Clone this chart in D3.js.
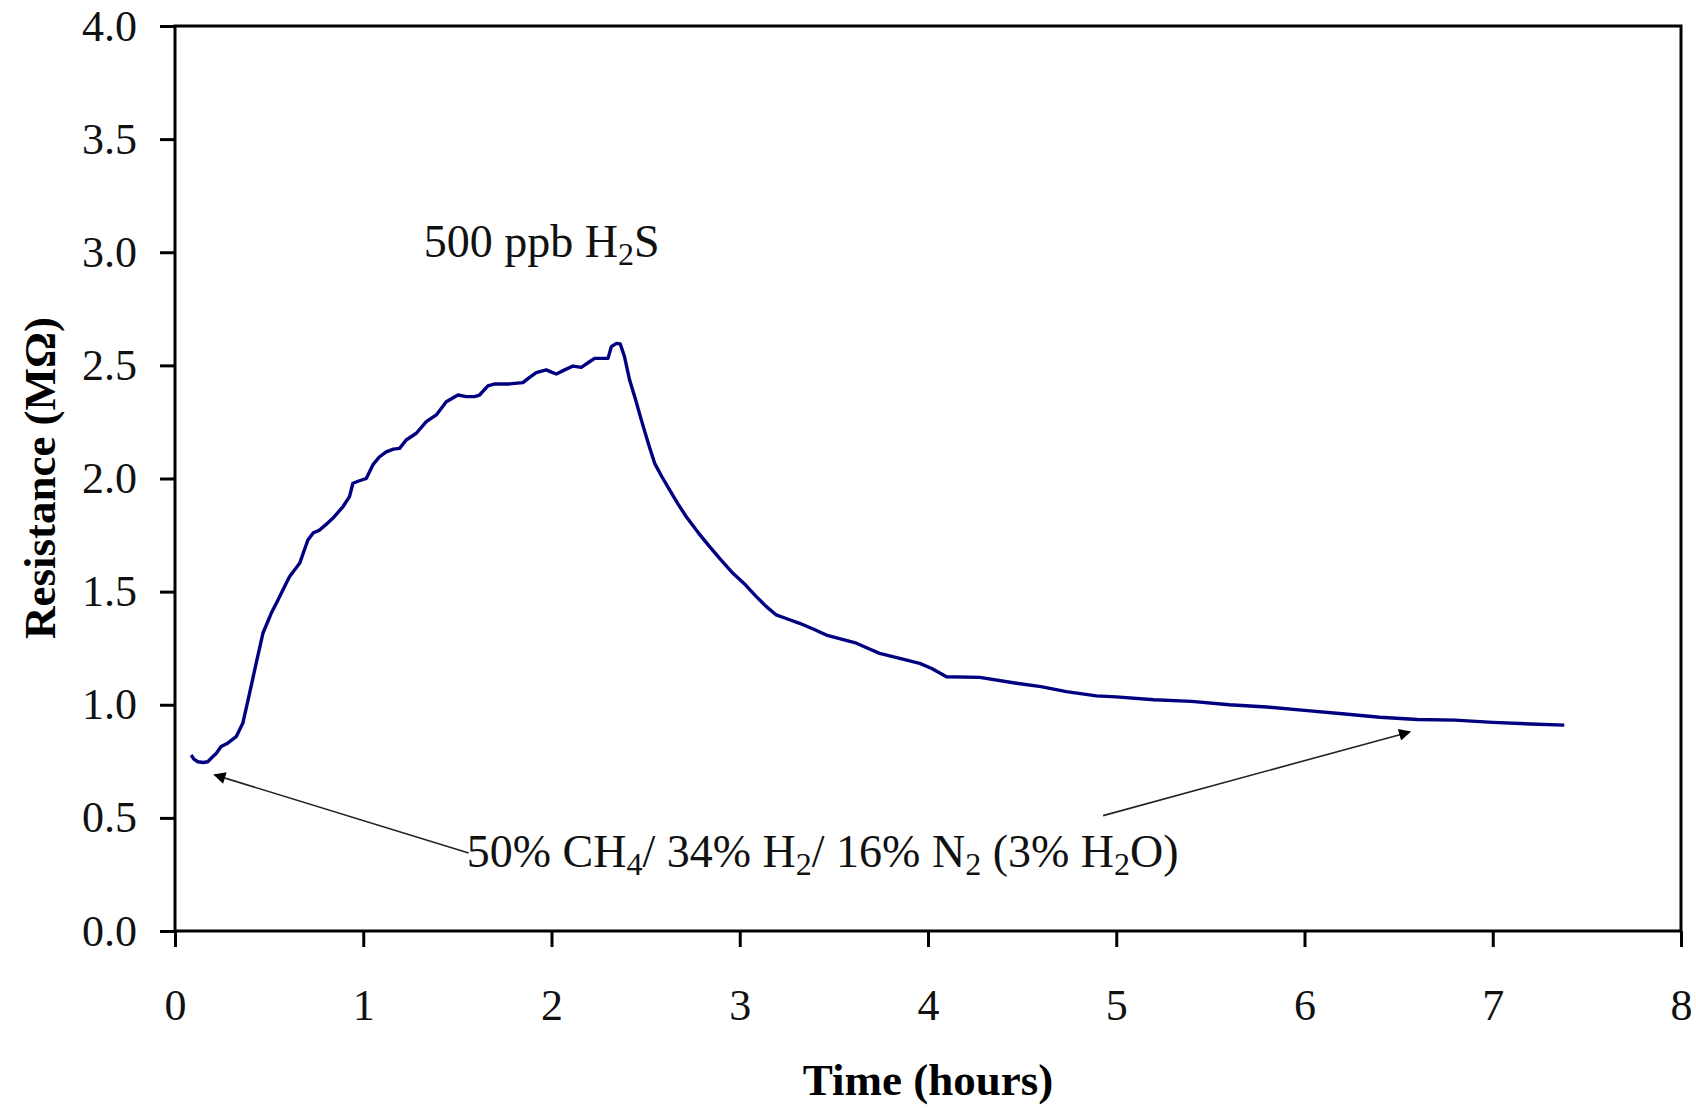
<!DOCTYPE html>
<head>
    <meta charset="utf-8">
    <title>Resistance vs Time</title>
    <script src="https://d3js.org/d3.v7.min.js"></script>
</head>

<body>
<svg id="chart" width="1696" height="1108"></svg>
</body>

<script>

    // sensor resistance (MOhm), time in hours
    var timeHours = [0.086, 0.10, 0.121, 0.15, 0.174, 0.20, 0.219, 0.245, 0.28, 0.325,
        0.36, 0.396, 0.431, 0.467, 0.511, 0.545, 0.573, 0.608, 0.662, 0.706,
        0.735, 0.768, 0.80, 0.838, 0.892, 0.927, 0.945, 0.98, 1.016, 1.051,
        1.085, 1.122, 1.16, 1.193, 1.228, 1.282, 1.335, 1.388, 1.441, 1.503,
        1.547, 1.59, 1.618, 1.662, 1.70, 1.777, 1.848, 1.88, 1.919, 1.972,
        2.0, 2.026, 2.07, 2.114, 2.158, 2.20, 2.229, 2.30, 2.318, 2.345,
        2.365, 2.388, 2.415, 2.446, 2.477, 2.516, 2.548, 2.585, 2.628, 2.67,
        2.716, 2.78, 2.84, 2.90, 2.964, 3.03, 3.088, 3.14, 3.194, 3.25,
        3.318, 3.39, 3.46, 3.54, 3.62, 3.68, 3.743, 3.85, 3.956, 4.02,
        4.098, 4.275, 4.47, 4.6, 4.735, 4.895, 5.0, 5.2, 5.4, 5.6,
        5.8, 6.0, 6.2, 6.4, 6.6, 6.8, 7.0, 7.2, 7.38]

    var resistance = [0.778, 0.760, 0.748, 0.745, 0.748, 0.770, 0.785, 0.815, 0.830, 0.859,
        0.918, 1.05, 1.183, 1.316, 1.404, 1.46, 1.507, 1.566, 1.625, 1.728,
        1.76, 1.772, 1.795, 1.824, 1.875, 1.92, 1.979, 1.99, 2.0, 2.06,
        2.095, 2.118, 2.13, 2.133, 2.17, 2.2, 2.251, 2.281, 2.339, 2.369,
        2.362, 2.362, 2.369, 2.409, 2.418, 2.418, 2.424, 2.445, 2.468, 2.48,
        2.47, 2.462, 2.48, 2.497, 2.491, 2.515, 2.531, 2.531, 2.583, 2.597,
        2.595, 2.538, 2.435, 2.35, 2.259, 2.15, 2.067, 2.01, 1.949, 1.89,
        1.831, 1.76, 1.699, 1.64, 1.581, 1.53, 1.478, 1.435, 1.397, 1.38,
        1.36, 1.335, 1.308, 1.29, 1.272, 1.25, 1.227, 1.205, 1.183, 1.16,
        1.124, 1.121, 1.095, 1.08, 1.058, 1.039, 1.035, 1.022, 1.015, 1.0,
        0.99, 0.975, 0.96, 0.945, 0.935, 0.932, 0.922, 0.915, 0.91]

    var xTicks = [0, 1, 2, 3, 4, 5, 6, 7, 8]
    var yTicks = [0.0, 0.5, 1.0, 1.5, 2.0, 2.5, 3.0, 3.5, 4.0]

    // annotation arrows [fromTime, fromR, toTime, toR]
    var arrows = [
        [1.56, 0.345, 0.21, 0.69],
        [4.93, 0.51, 6.56, 0.88]
    ]

    var margin = {top: 26, right: 15, bottom: 177, left: 175}
    var width = 1696 - margin.left - margin.right,
        height = 1108 - margin.top - margin.bottom

    var font = "'Liberation Serif', 'Times New Roman', serif"

    var svg = d3.select("#chart")
        .append("g")
        .attr("transform", "translate(" + margin.left + "," + margin.top + ")")

    var x = d3.scaleLinear().domain([0, 8]).range([0, width])
    var y = d3.scaleLinear().domain([0, 4]).range([height, 0])

    // axes
    var yAxis = svg.append("g")
        .call(d3.axisLeft(y).tickValues(yTicks).tickFormat(d3.format(".1f"))
            .tickSize(15).tickSizeOuter(0).tickPadding(23))
    var xAxis = svg.append("g")
        .attr("transform", "translate(0," + height + ")")
        .call(d3.axisBottom(x).tickValues(xTicks).tickFormat(d3.format("d"))
            .tickSize(16).tickSizeOuter(0).tickPadding(42))

    svg.selectAll(".domain").remove()
    svg.selectAll(".tick line").attr("stroke", "#000").attr("stroke-width", 3)
    svg.selectAll(".tick text")
        .style("font-family", font)
        .style("font-size", "44px")
        .attr("fill", "#111")

    // plot frame
    svg.append("rect")
        .attr("x", 0).attr("y", 0)
        .attr("width", width).attr("height", height)
        .attr("fill", "none")
        .attr("stroke", "#000")
        .attr("stroke-width", 3)

    // axis titles
    svg.append("text")
        .attr("x", width / 2)
        .attr("y", height + 164)
        .attr("text-anchor", "middle")
        .style("font-family", font).style("font-size", "45px").style("font-weight", "bold")
        .text("Time (hours)")

    svg.append("text")
        .attr("transform", "translate(" + (55 - margin.left) + "," + (478 - margin.top) + ") rotate(-90)")
        .attr("text-anchor", "middle")
        .style("font-family", font).style("font-size", "45px").style("font-weight", "bold")
        .text("Resistance (MΩ)")

    // data line
    var points = timeHours.map(function(t, i) { return [t, resistance[i]] })
    svg.append("path")
        .datum(points)
        .attr("fill", "none")
        .attr("stroke", "#000080")
        .attr("stroke-width", 3.4)
        .attr("stroke-linejoin", "round")
        .attr("d", d3.line()
            .x(function(d) { return x(d[0]) })
            .y(function(d) { return y(d[1]) }))

    // arrows
    svg.append("defs").append("marker")
        .attr("id", "head")
        .attr("viewBox", "0 0 10 10")
        .attr("refX", 9).attr("refY", 5)
        .attr("markerUnits", "userSpaceOnUse")
        .attr("markerWidth", 16).attr("markerHeight", 12)
        .attr("orient", "auto")
        .append("path")
        .attr("d", "M0,0 L10,5 L0,10 z")
        .attr("fill", "#000")

    svg.selectAll(".arrow")
        .data(arrows)
        .enter().append("line")
        .attr("class", "arrow")
        .attr("x1", function(d) { return x(d[0]) })
        .attr("y1", function(d) { return y(d[1]) })
        .attr("x2", function(d) { return x(d[2]) })
        .attr("y2", function(d) { return y(d[3]) })
        .attr("stroke", "#222")
        .attr("stroke-width", 1.6)
        .attr("marker-end", "url(#head)")

    // labels with subscripts: [text, isSub]
    function richText(tx, ty, parts) {
        var t = svg.append("text")
            .attr("x", x(tx)).attr("y", y(ty))
            .style("font-family", font).style("font-size", "46px")
            .attr("fill", "#111")
        var shifted = false
        parts.forEach(function(p) {
            var s = t.append("tspan").text(p[0])
            if (p[1]) {
                s.attr("dy", 8).style("font-size", "32px")
                shifted = true
            } else if (shifted) {
                s.attr("dy", -8)
                shifted = false
            }
        })
    }

    richText(1.322, 2.98, [["500 ppb H"], ["2", 1], ["S"]])
    richText(1.55, 0.283, [["50% CH"], ["4", 1], ["/ 34% H"], ["2", 1], ["/ 16% N"], ["2", 1],
        [" (3% H"], ["2", 1], ["O)"]])

</script>

<style>
    html, body {
        margin: 0;
        background: #fff;
    }
</style>

</html>
